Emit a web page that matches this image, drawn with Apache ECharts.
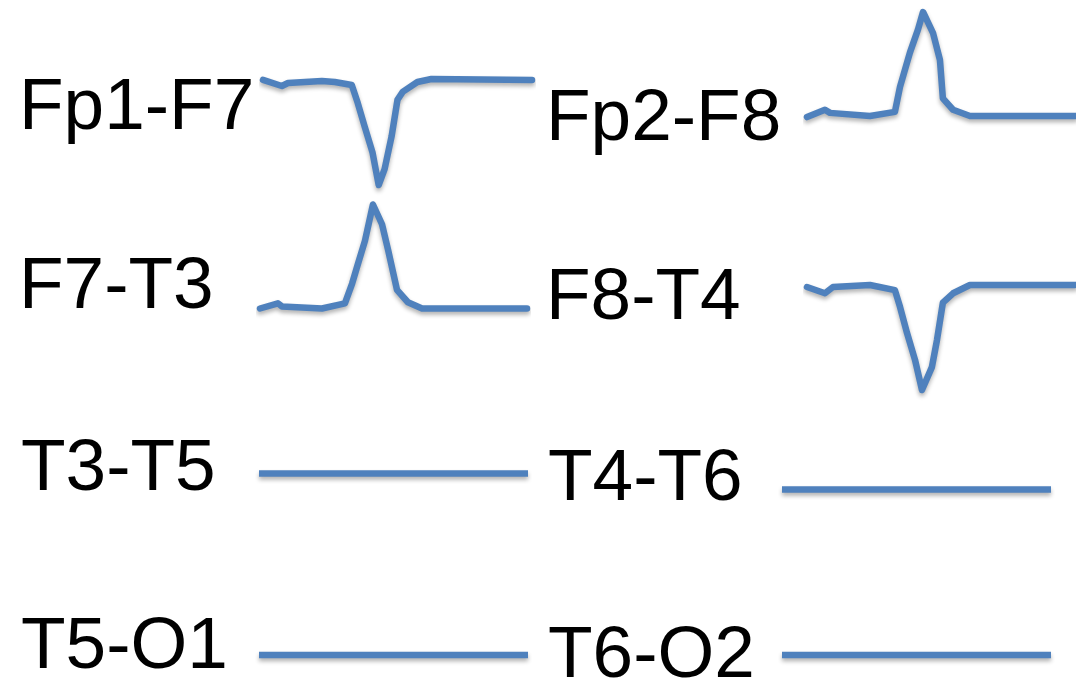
<!DOCTYPE html>
<html>
<head>
<meta charset="utf-8">
<script src="https://cdn.jsdelivr.net/npm/echarts@6/dist/echarts.min.js"></script>
<style>
html,body{margin:0;padding:0;background:#fff;}
#chart{width:1076px;height:693px;}
</style>
</head>
<body>
<div id="chart"></div>
<script>
// ---- data (channel names, time samples, amplitudes) ----
const channels = ['Fp1-F7','F7-T3','T3-T5','T5-O1','Fp2-F8','F8-T4','T4-T6','T6-O2'];

const fp1f7Time = [0, 7.0, 9.3, 21.9, 26.7, 33, 35.2, 37.8, 40.7, 43, 45.2, 47.8, 50, 51.9, 57.4, 62.6, 100];
const fp1f7Val  = [1, -4.8, -1.9, 0, -1, -3.8, -21, -43.8, -68.6, -100, -84.8, -53.3, -18.1, -10.5, -1, 1.9, 1];

const f7t3Time = [0, 6.7, 8.2, 23.2, 31.8, 34.5, 36.7, 39.3, 42.3, 45.7, 48, 51.3, 55.4, 60.7, 100];
const f7t3Val  = [0, 5, 2, 0, 5, 24, 43, 65, 100, 81, 56, 18, 6, 0, 0];

const fp2f8Time = [0, 6.7, 8.6, 23.5, 32.8, 34.7, 38.4, 41.4, 43.3, 47, 49.6, 50.7, 54.5, 60.8, 100];
const fp2f8Val  = [-1, 6, 3, 0, 4, 28, 61, 83, 100, 80, 54, 17, 6, 0, 0];

const f8t4Time = [0, 6.7, 9.7, 23.5, 32.8, 34.7, 37.3, 40.3, 42.9, 46.6, 48.5, 50.7, 54.5, 60.8, 100];
const f8t4Val  = [-1, -7, -1, 1, -4, -20, -45, -71, -100, -78, -52, -16, -7, 1, 1];

const flatTime = [0, 100];
const t3t5Val = [0, 0];
const t5o1Val = [0, 0];
const t4t6Val = [0, 0];
const t6o2Val = [0, 0];

const traceTimes  = [fp1f7Time, f7t3Time, flatTime, flatTime, fp2f8Time, f8t4Time, flatTime, flatTime];
const traceValues = [fp1f7Val, f7t3Val, t3t5Val, t5o1Val, fp2f8Val, f8t4Val, t4t6Val, t6o2Val];

// ---- layout (pixels) ----
// label: [x, yCenter]; trace: [left, width, baselineY, pxPer100, yMin, yMax]
const labelPos = [[19,109],[19,288],[21,470],[21,648],[546,120],[546,299],[548,480],[548,657]];
const tracePos = [
  [263, 269, 81,    104, -100, 20],
  [260, 267, 308.5, 104, -20, 100],
  [259, 269, 473.5, 100, -10, 10],
  [259, 269, 655,   100, -10, 10],
  [807, 268, 116,   104, -20, 100],
  [807, 268, 286,   104, -100, 20],
  [782, 269, 489.5, 100, -10, 10],
  [782, 269, 655,   100, -10, 10]
];

const grids = [], xAxes = [], yAxes = [], series = [], graphics = [];
channels.forEach((name, i) => {
  const [left, width, base, k, yMin, yMax] = tracePos[i];
  const isFlat = traceTimes[i].length === 2;
  grids.push({
    left: left, width: width,
    top: base - k * yMax / 100,
    height: k * (yMax - yMin) / 100,
    containLabel: false
  });
  xAxes.push({type: 'value', gridIndex: i, min: 0, max: 100, show: false});
  yAxes.push({type: 'value', gridIndex: i, min: yMin, max: yMax, show: false});
  series.push({
    type: 'line',
    name: name,
    xAxisIndex: i,
    yAxisIndex: i,
    data: traceTimes[i].map((t, j) => [t, traceValues[i][j]]),
    showSymbol: false,
    clip: false,
    animation: false,
    lineStyle: {
      color: '#4f81bd',
      width: 6.5,
      cap: isFlat ? 'butt' : 'round',
      join: 'round',
      shadowColor: 'rgba(0,0,0,0.3)',
      shadowBlur: 4,
      shadowOffsetY: 3
    }
  });
  graphics.push({
    type: 'text',
    x: labelPos[i][0],
    y: labelPos[i][1],
    style: {
      text: name,
      font: '73px "Liberation Sans", Arial, sans-serif',
      fill: '#000',
      align: 'left',
      verticalAlign: 'middle'
    }
  });
});

const chart = echarts.init(document.getElementById('chart'), null, {renderer: 'canvas'});
chart.setOption({
  backgroundColor: '#fff',
  animation: false,
  grid: grids,
  xAxis: xAxes,
  yAxis: yAxes,
  series: series,
  graphic: graphics
});
</script>
</body>
</html>
